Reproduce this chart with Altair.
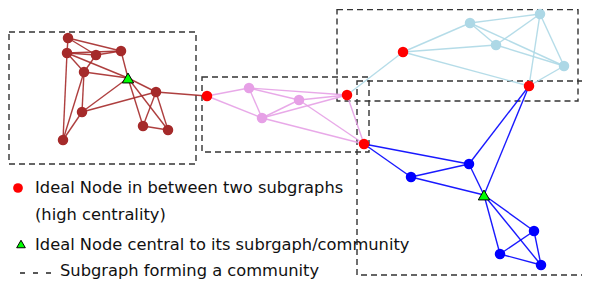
import altair as alt
import pandas as pd

# ---------------- data ----------------
node_names = ["A", "B", "C", "D", "E", "T1", "F", "G", "H", "I", "J",
              "R1", "P1", "P2", "P3", "R2", "R3",
              "R4", "L1", "L2", "L3", "L4", "R5",
              "B1", "B2", "T2", "B3", "B4", "B5"]
node_x = [68, 67, 96, 121, 84, 128, 156, 82, 63, 143, 168,
          207, 249, 299, 262, 347, 364,
          403, 470, 540, 496, 564, 529,
          411, 469, 484, 534, 500, 541]
node_y = [37, 52, 54, 50, 71, 77, 91, 111, 139, 125, 129,
          95, 87, 99, 117, 94, 143,
          51, 22, 13, 44, 65, 85,
          176, 163, 194, 230, 253, 264]
node_kind = ["brown"] * 5 + ["central"] + ["brown"] * 5 + \
            ["bridge", "pink", "pink", "pink", "bridge", "bridge",
             "bridge", "lightblue", "lightblue", "lightblue", "lightblue", "bridge",
             "blue", "blue", "central", "blue", "blue", "blue"]

edge_src = ["A", "A", "A", "B", "B", "B", "B", "B", "C", "C", "E", "E", "E", "D",
            "T1", "T1", "T1", "T1", "G", "G", "F", "F", "I", "F",
            "R1", "R1", "P1", "P1", "P1", "P2", "P2", "P2", "P3", "P3", "R2",
            "R2", "R4", "R4", "R4", "L1", "L1", "L1", "L3", "L3", "L2", "L2", "L4",
            "R3", "R3", "B1", "B1", "B2", "B2", "R5", "T2", "T2", "T2", "B3", "B3", "B4"]
edge_dst = ["B", "C", "D", "C", "D", "E", "T1", "H", "E", "D", "T1", "G", "H", "T1",
            "G", "F", "I", "J", "F", "H", "I", "J", "J", "R1",
            "P1", "P3", "P3", "R2", "P2", "P3", "R2", "R3", "R2", "R3", "R3",
            "R4", "L1", "L3", "R5", "L2", "L3", "L4", "L2", "L4", "R5", "L4", "R5",
            "B1", "B2", "B2", "T2", "T2", "R5", "T2", "B3", "B4", "B5", "B4", "B5", "B5"]
edge_group = ["brown"] * 24 + ["pink"] * 11 + ["lightblue"] * 12 + ["blue"] * 13

box_x1 = [9, 202, 337, 357]
box_y1 = [31, 76, 8.5, 80]
box_x2 = [196, 369, 578, 600]
box_y2 = [163, 151, 100, 274]

legend_text = ["Ideal Node in between two subgraphs", "(high centrality)",
               "Ideal Node central to its subrgaph/community", "Subgraph forming a community"]
legend_tx = [35, 35, 35, 60]
legend_ty = [192, 219, 249, 275]

# ---------------- tables ----------------
nodes = pd.DataFrame({"name": node_names, "x": node_x, "y": node_y, "kind": node_kind})
pos = {n: (x, y) for n, x, y in zip(node_names, node_x, node_y)}
edges = pd.DataFrame({
    "x": [pos[s][0] for s in edge_src], "y": [pos[s][1] for s in edge_src],
    "x2": [pos[d][0] for d in edge_dst], "y2": [pos[d][1] for d in edge_dst],
    "group": edge_group,
})
boxes = pd.DataFrame({"x": box_x1, "y": box_y1, "x2": box_x2, "y2": box_y2})
legend = pd.DataFrame({"text": legend_text, "x": legend_tx, "y": legend_ty})
leg_dot = pd.DataFrame({"x": [18], "y": [187]})
leg_tri = pd.DataFrame({"x": [21], "y": [243]})
leg_dash = pd.DataFrame({"x": [20], "x2": [52], "y": [272]})

W, H = 574, 271
xs = alt.Scale(domain=[8, 8 + W], nice=False, zero=False)
ys = alt.Scale(domain=[8, 8 + H], nice=False, zero=False, reverse=True)
X = lambda f="x": alt.X(f, type="quantitative", scale=xs, axis=None)
Y = lambda f="y": alt.Y(f, type="quantitative", scale=ys, axis=None)

colors = alt.Scale(domain=["brown", "pink", "lightblue", "blue", "bridge"],
                   range=["#a52a2a", "#e6a0e6", "#add8e6", "#0000ff", "#ff0000"])

box_layer = alt.Chart(boxes).mark_rect(fill=None, stroke="#333333", strokeWidth=1.4,
                                       strokeDash=[6, 4], clip=True).encode(
    x=X(), y=Y(), x2="x2", y2="y2")

edge_layer = alt.Chart(edges).mark_rule(strokeWidth=1.4, opacity=0.9).encode(
    x=X(), y=Y(), x2="x2", y2="y2",
    color=alt.Color("group:N", scale=colors, legend=None))

node_layer = alt.Chart(nodes).transform_filter(alt.datum.kind != "central").mark_circle(
    size=110, opacity=1).encode(
    x=X(), y=Y(), color=alt.Color("kind:N", scale=colors, legend=None))

tri_layer = alt.Chart(nodes).transform_filter(alt.datum.kind == "central").mark_point(
    shape="triangle-up", filled=True, size=130, fill="#00ff00", stroke="black",
    strokeWidth=1, opacity=1).encode(x=X(), y=Y())

leg_dot_layer = alt.Chart(leg_dot).mark_circle(size=95, color="#ff0000", opacity=1).encode(
    x=X(), y=Y())
leg_tri_layer = alt.Chart(leg_tri).mark_point(
    shape="triangle-up", filled=True, size=75, fill="#00ff00", stroke="black",
    strokeWidth=1, opacity=1).encode(x=X(), y=Y())
leg_dash_layer = alt.Chart(leg_dash).mark_rule(strokeDash=[5, 8], strokeWidth=1.4,
                                               color="#222222").encode(x=X(), x2="x2", y=Y())
text_layer = alt.Chart(legend).mark_text(align="left", baseline="alphabetic",
                                         font="DejaVu Sans", fontSize=16.3,
                                         color="#111111").encode(
    x=X(), y=Y(), text="text:N")

chart = alt.layer(box_layer, edge_layer, node_layer, tri_layer,
                  leg_dot_layer, leg_tri_layer, leg_dash_layer, text_layer).properties(
    width=W, height=H, padding=0, background="white"
).configure_view(stroke=None)

chart.save("out.html", embed_options={"renderer": "svg", "actions": False})
